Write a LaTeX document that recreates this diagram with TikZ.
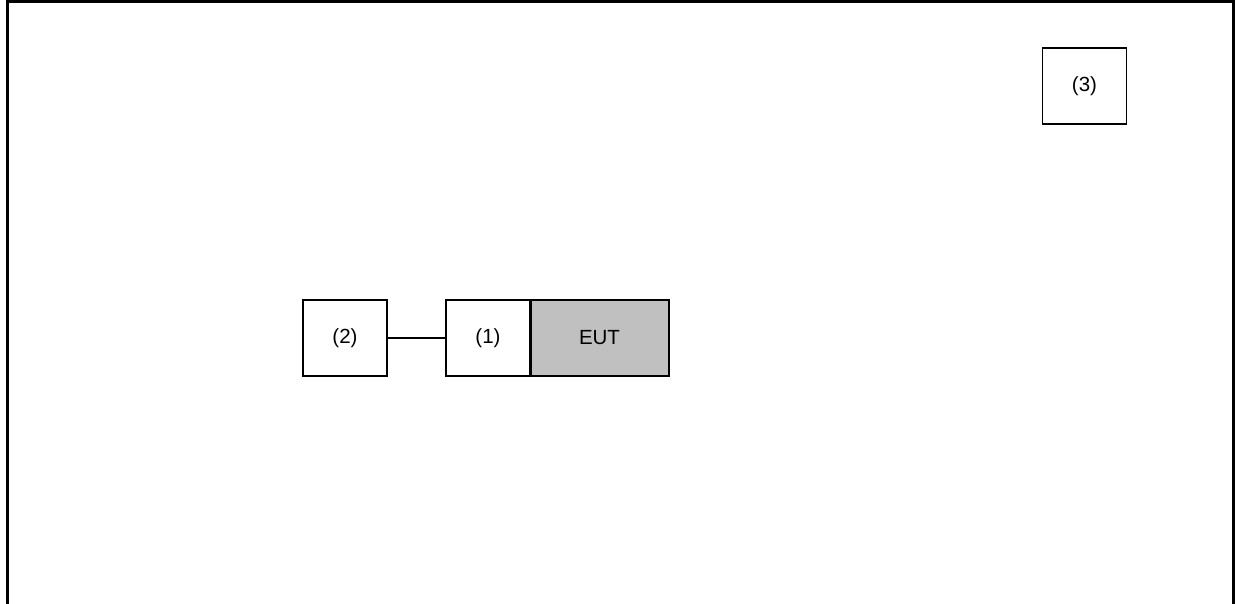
\documentclass[tikz,border=0pt]{standalone}
\usepackage{fontspec}
\setmainfont{Liberation Sans}
\definecolor{eutgray}{RGB}{192,192,192}
\begin{document}
\begin{tikzpicture}[x=1pt,y=-1pt,
  box/.style={draw, line width=1.3pt, inner sep=0pt, font=\fontsize{20.5}{24}\selectfont},
  frame/.style={line width=3pt}]
\useasboundingbox (0,0) rectangle (1239,604);
\draw[frame] (7.5,604) -- (7.5,1.5) -- (1233.5,1.5) -- (1233.5,604);
\node[box, minimum width=84pt, minimum height=76pt] (b3) at (1084.5,86) {(3)};
\node[box, minimum width=84pt, minimum height=76pt] (b2) at (345,338) {(2)};
\node[box, minimum width=84pt, minimum height=76pt] (b1) at (488,338) {(1)};
\node[box, line width=2pt, fill=eutgray, minimum width=138pt, minimum height=76pt] (eut) at (599.5,338) {EUT};
\draw[line width=1.3pt] (b2.east) -- (b1.west);
\end{tikzpicture}
\end{document}
